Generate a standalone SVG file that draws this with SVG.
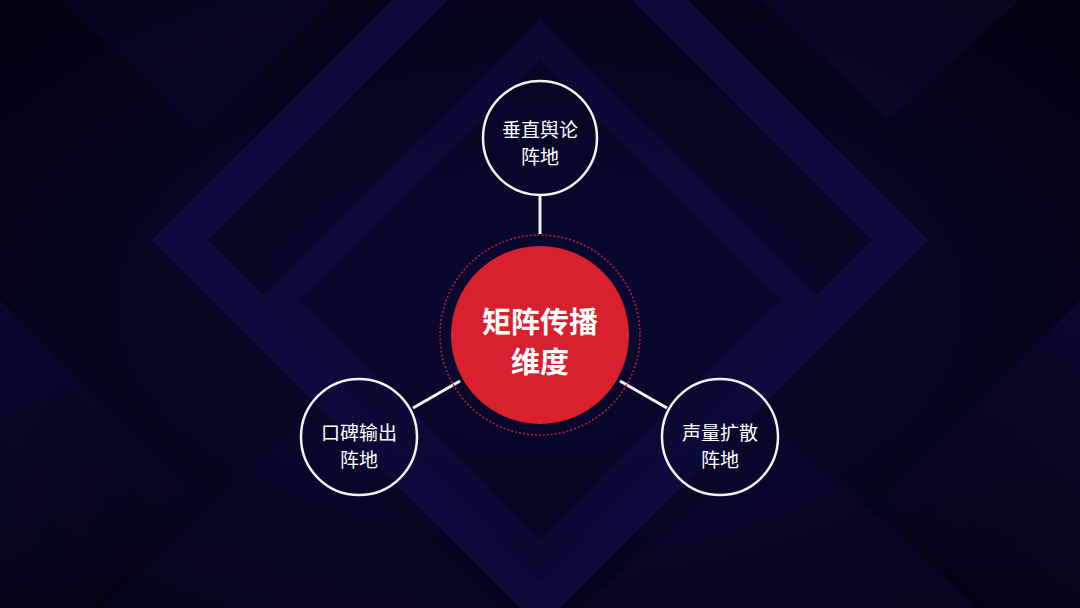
<svg xmlns="http://www.w3.org/2000/svg" width="1080" height="608" viewBox="0 0 1080 608">
<defs>
<radialGradient id="bg" cx="50%" cy="50%" r="70%">
<stop offset="0" stop-color="#0a0833"/>
<stop offset="0.6" stop-color="#060520"/>
<stop offset="1" stop-color="#030210"/>
</radialGradient>
<linearGradient id="pl" x1="0" y1="0" x2="1" y2="1">
<stop offset="0" stop-color="#1a1560" stop-opacity="0.6"/>
<stop offset="1" stop-color="#0a0830" stop-opacity="0.1"/>
</linearGradient>
<linearGradient id="pr" x1="1" y1="0" x2="0" y2="1">
<stop offset="0" stop-color="#2a1666" stop-opacity="0.5"/>
<stop offset="1" stop-color="#0a0830" stop-opacity="0.1"/>
</linearGradient>
<style>
.ring{fill:#0a0930;fill-opacity:0.4;stroke:#f2f2f2;stroke-width:2.5}
.lbl{font-family:"Noto Sans CJK SC","Noto Sans",sans-serif;font-size:19px;fill:#ffffff;text-anchor:middle}
.big{font-family:"Noto Sans CJK SC","Noto Sans",sans-serif;font-size:29px;font-weight:700;fill:#ffffff;text-anchor:middle}
.conn{stroke:#f2f2f2;stroke-width:3}
</style>
</defs>
<rect width="1080" height="608" fill="url(#bg)"/>
<g opacity="0.45">
<polygon points="540,-120 900,240 540,600 180,240" fill="none" stroke="#16135a" stroke-width="40"/>
<polygon points="540,40 800,300 540,560 280,300" fill="none" stroke="#120f4c" stroke-width="30"/>
<polygon points="0,300 200,500 0,700" fill="url(#pl)"/>
<polygon points="1080,300 880,500 1080,700" fill="url(#pr)"/>
<polygon points="60,0 330,0 200,130" fill="#0f0c3e" opacity="0.6"/>
<polygon points="760,0 1020,0 890,120" fill="#150f44" opacity="0.6"/>
<polygon points="100,608 300,420 500,608" fill="#0d0b3a" opacity="0.6"/>
<polygon points="580,608 780,430 980,608" fill="#120c40" opacity="0.6"/>
</g>
<g id="connectors">
<line class="conn" x1="540" y1="196" x2="540" y2="234"/>
<line class="conn" x1="413" y1="408" x2="460" y2="381"/>
<line class="conn" x1="620" y1="381" x2="667" y2="408"/>
</g>
<g id="center">
<circle cx="540" cy="335" r="100" fill="none" stroke="#b8203a" stroke-width="1.5" stroke-dasharray="2 2"/>
<circle cx="540" cy="335" r="89" fill="#d8202e"/>
<text class="big" x="540" y="333">矩阵传播</text>
<text class="big" x="540" y="373">维度</text>
</g>
<g id="top">
<circle class="ring" cx="540" cy="138" r="57"/>
<text class="lbl" x="540" y="137">垂直舆论</text>
<text class="lbl" x="540" y="164">阵地</text>
</g>
<g id="left">
<circle class="ring" cx="359" cy="437" r="58"/>
<text class="lbl" x="359" y="440">口碑输出</text>
<text class="lbl" x="359" y="467">阵地</text>
</g>
<g id="right">
<circle class="ring" cx="720" cy="437" r="58"/>
<text class="lbl" x="720" y="440">声量扩散</text>
<text class="lbl" x="720" y="467">阵地</text>
</g>
</svg>
